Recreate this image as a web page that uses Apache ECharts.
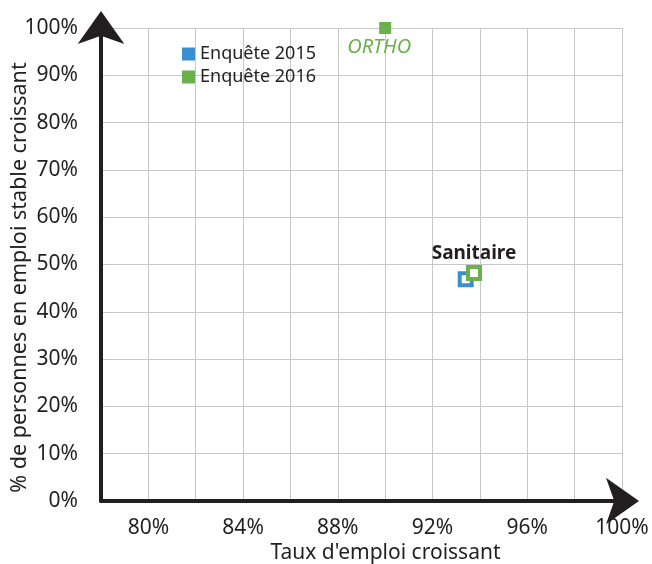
<!DOCTYPE html>
<html>
<head>
<meta charset="utf-8">
<script src="https://cdn.jsdelivr.net/npm/echarts@6/dist/echarts.min.js"></script>
<style>html,body{margin:0;padding:0;background:#fff;}#c{width:652px;height:564px;}</style>
</head>
<body>
<div id="c"></div>
<script>
var seriesNames = ['Enquête 2015', 'Enquête 2016'];
var labels2015 = ['Sanitaire'];
var x2015 = [93.4];
var y2015 = [46.9];
var labels2016 = ['Sanitaire', 'ORTHO'];
var x2016 = [93.75, 90.0];
var y2016 = [48.2, 100];
var xTicks = [80, 84, 88, 92, 96, 100];
var yTicks = [0, 10, 20, 30, 40, 50, 60, 70, 80, 90, 100];

var BLUE = '#3a8fd1', GREEN = '#6ab04c', INK = '#231f20';
var FONT = 'Noto Sans';

function hollow(color) {
  return { color: '#fff', borderColor: color, borderWidth: 4, opacity: 1 };
}

var data2015 = labels2015.map(function (n, i) {
  return { name: n, value: [x2015[i], y2015[i]], itemStyle: hollow(BLUE) };
});
var data2016 = labels2016.map(function (n, i) {
  var d = { name: n, value: [x2016[i], y2016[i]] };
  if (n === 'Sanitaire') {
    d.itemStyle = hollow(GREEN);
    d.label = { show: true, position: 'top', distance: 2, formatter: '{b}',
      color: INK, fontWeight: 'bold', fontSize: 19, fontFamily: FONT };
  } else {
    d.label = { show: true, position: 'bottom', distance: 3, offset: [-6, 0], formatter: '{b}',
      color: GREEN, fontStyle: 'italic', fontSize: 20, fontFamily: FONT };
  }
  return d;
});

var chart = echarts.init(document.getElementById('c'), null, { renderer: 'canvas' });
chart.setOption({
  animation: false,
  backgroundColor: '#fff',
  textStyle: { fontFamily: FONT },
  grid: { left: 101, right: 30, top: 28, bottom: 63, containLabel: false, outerBoundsMode: 'none' },
  legend: {
    left: 177, top: 40, orient: 'vertical', itemWidth: 13, itemHeight: 13, itemGap: 5,
    icon: 'rect',
    textStyle: { color: INK, fontSize: 18, fontFamily: FONT },
    data: [
      { name: seriesNames[0], itemStyle: { color: BLUE, borderWidth: 0, opacity: 1 } },
      { name: seriesNames[1], itemStyle: { color: GREEN, borderWidth: 0, opacity: 1 } }
    ]
  },
  xAxis: {
    type: 'value', min: 78, max: 100, interval: 2,
    name: "Taux d'emploi croissant", nameLocation: 'middle', nameGap: 42, nameMoveOverlap: false,
    nameTextStyle: { color: INK, fontSize: 21, fontFamily: FONT, padding: [0, 0, 0, 48] },
    axisLine: { show: true, symbol: ['none', 'arrow'], symbolSize: [35, 33], symbolOffset: [0, 17],
      lineStyle: { color: INK, width: 4 } },
    axisTick: { show: false },
    axisLabel: { color: INK, fontSize: 21, margin: 17, fontFamily: FONT,
      formatter: function (v) { return xTicks.indexOf(Math.round(v)) >= 0 ? Math.round(v) + '%' : ''; } },
    splitLine: { show: true, lineStyle: { color: '#c8c8c8', width: 1 } }
  },
  yAxis: {
    type: 'value', min: 0, max: 100, interval: 10,
    name: '% de personnes en emploi stable croissant', nameLocation: 'middle', nameGap: 70, nameMoveOverlap: false,
    nameTextStyle: { color: INK, fontSize: 21.5, fontFamily: FONT, padding: [0, 26, 0, 0] },
    axisLine: { show: true, symbol: ['none', 'arrow'], symbolSize: [35, 33], symbolOffset: [0, 17],
      lineStyle: { color: INK, width: 4 } },
    axisTick: { show: false },
    axisLabel: { color: INK, fontSize: 21, margin: 23, fontFamily: FONT,
      formatter: function (v) { return yTicks.indexOf(Math.round(v)) >= 0 ? Math.round(v) + '%' : ''; } },
    splitLine: { show: true, lineStyle: { color: '#c8c8c8', width: 1 } }
  },
  series: [
    { name: seriesNames[0], type: 'scatter', symbol: 'rect', symbolSize: 12, clip: false,
      itemStyle: { color: BLUE, opacity: 1 }, data: data2015, z: 3 },
    { name: seriesNames[1], type: 'scatter', symbol: 'rect', symbolSize: 12, clip: false,
      itemStyle: { color: GREEN, opacity: 1 }, data: data2016, z: 4 }
  ]
});
</script>
</body>
</html>
